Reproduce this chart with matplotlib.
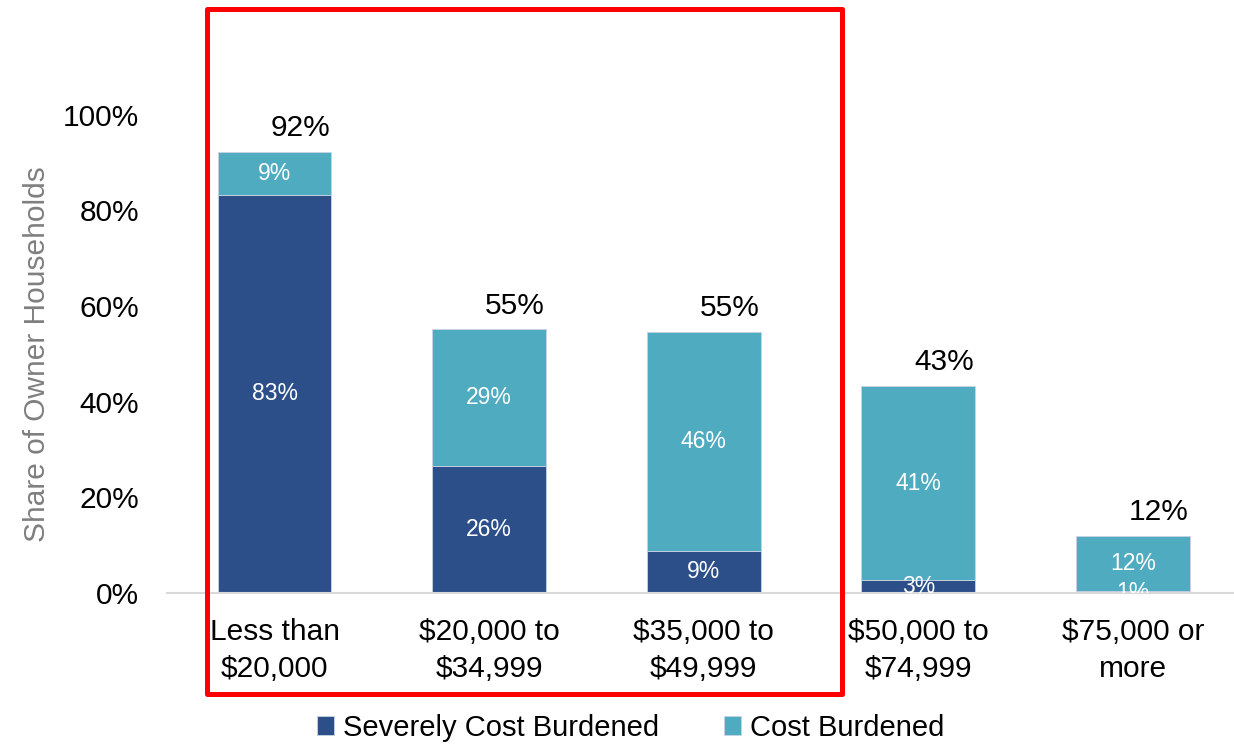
import numpy as np
import matplotlib.pyplot as plt
from matplotlib.patches import Rectangle

plt.rcParams['font.family'] = ['Liberation Sans', 'DejaVu Sans']

categories = ['Less than\n$20,000', '$20,000 to\n$34,999', '$35,000 to\n$49,999',
              '$50,000 to\n$74,999', '$75,000 or\nmore']
severe = [83.3, 26.5, 8.8, 2.7, 0.4]
burdened = [9.0, 28.6, 45.7, 40.6, 11.5]
severe_labels = ['83%', '26%', '9%', '3%', '1%']
burdened_labels = ['9%', '29%', '46%', '41%', '12%']
total_labels = ['92%', '55%', '55%', '43%', '12%']

dark = '#2c4f8a'
teal = '#4fabbf'

fig = plt.figure(figsize=(12.34, 7.45), dpi=100)
ax = fig.add_axes([0.1355, 0.204, 0.8695, 0.642])

x = np.arange(len(categories))
w = 0.53
b1 = ax.bar(x, severe, w, color=dark, edgecolor='#c9d3e3', linewidth=0.6, label='Severely Cost Burdened')
b2 = ax.bar(x, burdened, w, bottom=severe, color=teal, edgecolor='#c9d3e3', linewidth=0.6,
            label='Cost Burdened')

for i in range(len(x)):
    ax.text(x[i], severe[i] / 2, severe_labels[i], ha='center', va='center',
            color='white', fontsize=16.5, clip_on=True)
    ax.text(x[i], severe[i] + burdened[i] / 2, burdened_labels[i], ha='center', va='center',
            color='white', fontsize=16.5, clip_on=True)
    top = severe[i] + burdened[i]
    ax.text(x[i] + 0.12, top + 5.0, total_labels[i], ha='center', va='center',
            color='black', fontsize=21.5)

ax.set_xlim(-0.5, 4.5)
ax.set_ylim(0, 100)
ax.set_yticks([0, 20, 40, 60, 80, 100])
ax.set_yticklabels(['0%', '20%', '40%', '60%', '80%', '100%'])
ax.set_xticks(x)
ax.set_xticklabels(categories)
ax.tick_params(axis='both', length=0, labelsize=21.5)
ax.tick_params(axis='y', pad=20)
ax.tick_params(axis='x', pad=18)
for t in ax.get_xticklabels():
    t.set_linespacing(1.4)

for s in ['top', 'right', 'left']:
    ax.spines[s].set_visible(False)
ax.spines['bottom'].set_color('#d9d9d9')
ax.spines['bottom'].set_linewidth(1.5)

ax.set_ylabel('Share of Owner Households', fontsize=21.5, color='#7f7f7f')
ax.yaxis.set_label_coords(-0.108, 0.5)

fig.legend(handles=[b1, b2], loc='center', bbox_to_anchor=(0.511, 0.023), ncol=2,
           frameon=False, fontsize=21, handlelength=0.6, handleheight=0.6,
           handletextpad=0.3, columnspacing=2.2)

# red highlight box
fig.patches.append(Rectangle((0.168, 0.068), 0.5146, 0.9195, transform=fig.transFigure,
                             fill=False, edgecolor='#ff0000', linewidth=3.6,
                             joinstyle='round'))

plt.savefig('out.png', dpi=100)
